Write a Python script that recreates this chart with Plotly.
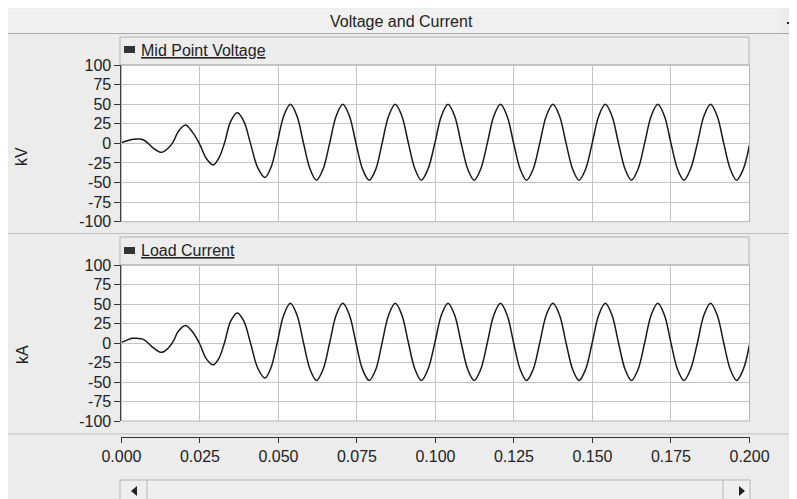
import plotly.graph_objects as go

# time samples in seconds (transient start, then ~60 Hz steady state)
time_s = [
    0.0000, 0.0015, 0.0033, 0.0050, 0.0068, 0.0085, 0.0101, 0.0128,
    0.0148, 0.0165, 0.0181, 0.0204, 0.0225, 0.0248, 0.0270, 0.0292,
    0.0310, 0.0328, 0.0348, 0.0369, 0.0390, 0.0411, 0.0434, 0.0457, 0.0476,
    0.0496, 0.0517, 0.0538, 0.0559, 0.0580, 0.0601, 0.0621, 0.0642,
    0.0663, 0.0684, 0.0705, 0.0726, 0.0747, 0.0768, 0.0789, 0.0810,
    0.0830, 0.0851, 0.0872, 0.0893, 0.0914, 0.0935, 0.0955, 0.0976,
    0.0998, 0.1019, 0.1040, 0.1061, 0.1082, 0.1103, 0.1123, 0.1144,
    0.1165, 0.1186, 0.1207, 0.1228, 0.1249, 0.1270, 0.1290, 0.1311,
    0.1332, 0.1353, 0.1374, 0.1395, 0.1416, 0.1437, 0.1457, 0.1478,
    0.1499, 0.1520, 0.1541, 0.1562, 0.1583, 0.1604, 0.1624, 0.1645,
    0.1666, 0.1687, 0.1708, 0.1729, 0.1750, 0.1771, 0.1791, 0.1812,
    0.1834, 0.1855, 0.1876, 0.1897, 0.1918, 0.1939, 0.1959, 0.1980,
    0.2000,
]

# Mid Point Voltage (kV)
mid_point_voltage = [
    1, 3, 5, 5.5, 5, 0, -6, -11.5,
    -6.5, 2, 15, 23.5, 15, 0, -19, -27.5,
    -19, 0, 28, 39, 28, 0, -31, -43.5, -31,
    0, 35, 50, 35, 0, -33, -47, -33,
    0, 35, 50, 35, 0, -33, -47, -33,
    0, 35, 50, 35, 0, -33, -47, -33,
    0, 35, 50, 35, 0, -33, -47, -33,
    0, 35, 50, 35, 0, -33, -47, -33,
    0, 35, 50, 35, 0, -33, -47, -33,
    0, 35, 50, 35, 0, -33, -47, -33,
    0, 35, 50, 35, 0, -33, -47, -33,
    0, 35, 50, 35, 0, -33, -47, -33,
    -2,
]

# Load Current (kA)
load_current = [
    1, 3, 6, 6, 5, 0, -6, -12,
    -7, 2, 15, 22.5, 15, 0, -20, -28,
    -20, 0, 28, 38.5, 28, 0, -32, -45, -32,
    0, 36, 51, 36, 0, -34, -48, -34,
    0, 36, 51, 36, 0, -34, -48, -34,
    0, 36, 51, 36, 0, -34, -48, -34,
    0, 36, 51, 36, 0, -34, -48, -34,
    0, 36, 51, 36, 0, -34, -48, -34,
    0, 36, 51, 36, 0, -34, -48, -34,
    0, 36, 51, 36, 0, -34, -48, -34,
    0, 36, 51, 36, 0, -34, -48, -34,
    0, 36, 51, 36, 0, -34, -48, -34,
    -2,
]

y_ticks = [100, 75, 50, 25, 0, -25, -50, -75, -100]
y_tick_labels = ["100", "75", "50", "25", "0", "-25", "-50", "-75", "-100"]

W, H = 797, 499
OFF = 8  # the page puts the figure 8px in from the top-left corner
FONT = "Liberation Sans, Arial, sans-serif"
BG = "#ececec"
GRID = "#c4c4c4"
INK = "#222222"


# helpers: screen pixel -> paper fraction
def px(x):
    return (x - OFF) / W


def py(y):
    return 1 - (y - OFF) / H


fig = go.Figure()

fig.add_trace(go.Scatter(
    x=time_s, y=mid_point_voltage, mode="lines", name="Mid Point Voltage",
    line=dict(color="#1a1a1a", width=1.5, shape="spline", smoothing=1.0),
    xaxis="x", yaxis="y",
))
fig.add_trace(go.Scatter(
    x=time_s, y=load_current, mode="lines", name="Load Current",
    line=dict(color="#1a1a1a", width=1.5, shape="spline", smoothing=1.0),
    xaxis="x2", yaxis="y2",
))

x_dom = [px(121.4), px(749.5)]
common_x = dict(
    domain=x_dom, range=[0, 0.2], tick0=0, dtick=0.025, automargin=False,
    showgrid=True, gridcolor=GRID, gridwidth=1, zeroline=False,
)
common_y = dict(
    range=[-100, 100], tickvals=y_ticks, ticktext=y_tick_labels,
    showgrid=True, gridcolor=GRID,
    zeroline=False, showline=True, linecolor="#333333", linewidth=1,
    ticks="outside", ticklen=6, tickcolor="#333333", automargin=False,
    tickfont=dict(family=FONT, size=16, color=INK),
)


def paper_line(x0, y0, x1, y1, color, width=1):
    return dict(type="line", xref="paper", yref="paper",
                x0=px(x0), x1=px(x1), y0=py(y0), y1=py(y1),
                line=dict(color=color, width=width))


def paper_rect(x0, y0, x1, y1, fill, line_color=None, layer="above"):
    return dict(type="rect", xref="paper", yref="paper",
                x0=px(x0), x1=px(x1), y0=py(y1), y1=py(y0), fillcolor=fill, layer=layer,
                line=dict(color=line_color, width=1) if line_color else dict(width=0))


shapes = [
    # title bar
    paper_rect(8, 9, 781, 33, "#f0f0f0", layer="below"),
    paper_line(8, 33.5, 797, 33.5, "#a8a8a8"),
    paper_line(787, 23, 795, 23, INK, 2),
    # panel separators
    paper_line(8, 233.5, 797, 233.5, "#c0c0c0"),
    paper_line(8, 434, 797, 434, "#c0c0c0"),
    # header boxes
    paper_rect(120, 37, 749, 65, "#ededed", "#b0b0b0", layer="below"),
    paper_rect(120, 237, 749, 265, "#ededed", "#b0b0b0", layer="below"),
    # legend squares
    paper_rect(124, 46, 135, 53, "#333333"),
    paper_rect(124, 247, 135, 254, "#333333"),
    # clipped widgets at the right edge
    paper_rect(794, 38, 797, 48, "#111111"),
    paper_rect(794, 240, 797, 250, "#111111"),
    # plot frames
    dict(type="rect", xref="x domain", yref="y domain", x0=0, x1=1, y0=0, y1=1,
         line=dict(color="#b4b4b4", width=1)),
    dict(type="rect", xref="x2 domain", yref="y2 domain", x0=0, x1=1, y0=0, y1=1,
         line=dict(color="#b4b4b4", width=1)),
    # scrollbar
    paper_rect(120, 480, 750, 500, "#efefef", "#b4b4b4"),
    paper_line(147, 480, 147, 499, "#b4b4b4"),
    paper_line(723, 480, 723, 499, "#b4b4b4"),
    dict(type="path", xref="paper", yref="paper",
         path=f"M {px(131)} {py(491)} L {px(137)} {py(486)} L {px(137)} {py(496)} Z",
         fillcolor=INK, line=dict(width=0)),
    dict(type="path", xref="paper", yref="paper",
         path=f"M {px(745)} {py(491)} L {px(739)} {py(486)} L {px(739)} {py(496)} Z",
         fillcolor=INK, line=dict(width=0)),
]


def label(text, x, y, size=16, angle=0, xanchor="center"):
    return dict(text=text, x=px(x), y=py(y), xref="paper", yref="paper",
                xanchor=xanchor, yanchor="middle", textangle=angle, showarrow=False,
                font=dict(family=FONT, size=size, color=INK))


annotations = [
    label("Voltage and Current", 401, 21),
    label("<u>Mid Point Voltage</u>", 139, 51, xanchor="left"),
    label("<u>Load Current</u>", 139, 251, xanchor="left"),
    label("kV", 22, 157, angle=-90),
    label("kA", 22, 355, angle=-90),
]

fig.update_layout(
    width=W, height=H,
    margin=dict(l=0, r=0, t=0, b=0),
    paper_bgcolor=BG, plot_bgcolor="white",
    showlegend=False,
    xaxis=dict(**common_x, anchor="y", showticklabels=False, ticks=""),
    yaxis=dict(**common_y, domain=[py(221.7), py(65)], anchor="x"),
    xaxis2=dict(**common_x, anchor="free", position=py(436.5),
                showline=True, linecolor="#333333", linewidth=1,
                ticks="outside", ticklen=5, tickcolor="#333333", tickformat=".3f",
                tickfont=dict(family=FONT, size=16, color=INK)),
    yaxis2=dict(**common_y, domain=[py(421), py(265)], anchor="x2"),
    shapes=shapes,
    annotations=annotations,
)

fig.write_html("out.html")
